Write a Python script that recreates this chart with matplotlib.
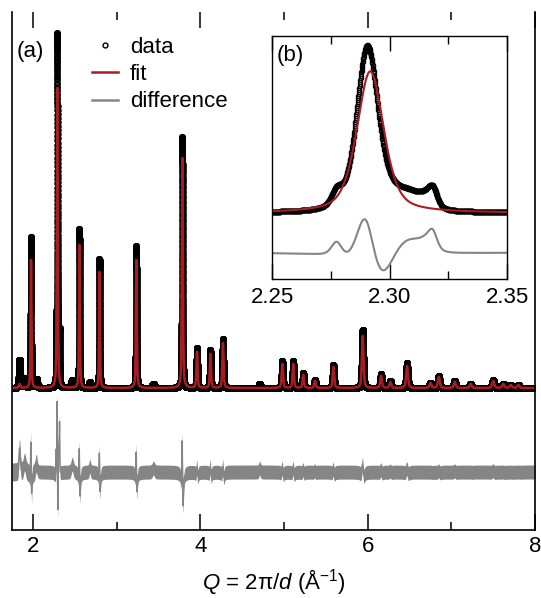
import numpy as np
import matplotlib
matplotlib.use("Agg")
import matplotlib.pyplot as plt
from matplotlib.lines import Line2D
from matplotlib.ticker import MultipleLocator

plt.rcParams['font.family'] = ['Liberation Sans', 'DejaVu Sans']
plt.rcParams['mathtext.fontset'] = 'custom'
plt.rcParams['mathtext.rm'] = 'Liberation Sans'
plt.rcParams['mathtext.it'] = 'Liberation Sans:italic'
plt.rcParams['font.size'] = 16

data_pos = [1.840, 1.900, 1.976, 2.040, 2.2775, 2.2905, 2.2925, 2.309, 2.3165, 2.3185,
            2.470, 2.555, 2.680, 2.795, 3.235, 3.440, 3.785, 3.960, 4.120,
            4.270, 4.710, 4.980, 5.110, 5.230, 5.370, 5.590, 5.940, 6.160,
            6.270, 6.470, 6.750, 6.850, 7.040, 7.230, 7.500, 7.620, 7.710, 7.800]
data_h = [28, 10, 151, 9, 28, 290, 65, 30, 22, 26,
          8, 159, 6, 129, 142, 4, 251, 40, 38,
          49, 4, 27, 27, 15, 8, 23, 58, 14,
          7, 25, 5, 12, 7, 4, 8, 4, 3, 3]
data_fwhm = [0.020, 0.030, 0.010, 0.025, 0.005, 0.010, 0.020, 0.014, 0.007, 0.004,
             0.030, 0.011, 0.020, 0.011, 0.012, 0.030, 0.013, 0.015, 0.015,
             0.016, 0.020, 0.018, 0.018, 0.018, 0.020, 0.020, 0.022, 0.022,
             0.022, 0.024, 0.025, 0.025, 0.026, 0.026, 0.028, 0.028, 0.028, 0.028]

# refined model peaks
fit_pos = [1.841, 1.977, 2.2918, 2.556, 2.796, 3.236, 3.786, 3.961, 4.121,
           4.271, 4.981, 5.111, 5.231, 5.371, 5.591, 5.941, 6.161, 6.271,
           6.471, 6.751, 6.851, 7.041, 7.231, 7.501, 7.621, 7.711, 7.801]
fit_h = [4, 128, 300, 143, 116, 128, 230, 36, 34,
         45, 24, 24, 13, 7, 21, 52, 12, 6,
         22, 5, 11, 6, 4, 7, 4, 3, 3]
fit_fwhm = [0.022, 0.012, 0.0135, 0.013, 0.013, 0.014, 0.015, 0.017, 0.017,
            0.018, 0.020, 0.020, 0.020, 0.022, 0.022, 0.024, 0.024, 0.024,
            0.026, 0.027, 0.027, 0.028, 0.028, 0.030, 0.030, 0.030, 0.030]

noise_edges = [1.75, 2.05, 8.0]
noise_hw = [9, 7]
diff_offset = -84


def pvoigt(q, pos, h, fwhm, eta):
    x = (q - pos) / (fwhm / 2)
    return h * (eta / (1 + x**2) + (1 - eta) * np.exp(-np.log(2) * x**2))


q = np.arange(1.75, 8.0001, 0.0001)
obs = np.zeros_like(q)
for p, h, w in zip(data_pos, data_h, data_fwhm):
    obs += pvoigt(q, p, h, w, 0.3)
calc = np.zeros_like(q)
for p, h, w in zip(fit_pos, fit_h, fit_fwhm):
    calc += pvoigt(q, p, h, w, 0.5)
diff = obs - calc + diff_offset
band = np.where(q < noise_edges[1], noise_hw[0], noise_hw[1])

red = '#a81c22'
grey = '#858585'

fig = plt.figure(figsize=(5.41, 5.98), dpi=100)
ax = fig.add_axes([0.0222, 0.1137, 0.9667, 0.8662])

ax.fill_between(q, diff - band, diff + band, color=grey, lw=0)
ax.plot(q, diff, color=grey, lw=1)
ax.plot(q, obs, 'o', ms=3.5, mfc='none', mec='k', mew=1.2)
ax.plot(q, calc, color=red, lw=1.8)

ax.set_xlim(1.75, 8)
ax.set_ylim(-142, 376)
ax.set_yticks([])
ax.xaxis.set_major_locator(MultipleLocator(2))
ax.xaxis.set_minor_locator(MultipleLocator(1))
ax.tick_params(axis='x', which='both', direction='in', top=True, width=1.1)
ax.tick_params(axis='x', which='major', length=11.5, pad=4)
ax.tick_params(axis='x', which='minor', length=5.8)
ax.spines['top'].set_visible(False)
for s in ['left', 'right', 'bottom']:
    ax.spines[s].set_linewidth(1.2)
ax.set_xlabel('$Q$ = 2π/$d$ (Å$^{-1}$)', labelpad=8)

ax.text(0.008, 0.923, '(a)', transform=ax.transAxes, va='center', ha='left')

handles = [Line2D([], [], ls='none', marker='o', ms=3.5, mfc='none', mec='k', mew=1),
           Line2D([], [], color=red, lw=1.8),
           Line2D([], [], color=grey, lw=1.8)]
ax.legend(handles, ['data', 'fit', 'difference'], loc='upper left',
          bbox_to_anchor=(0.153, 0.952), frameon=False, borderpad=0,
          borderaxespad=0, handlelength=1.15, handletextpad=0.55,
          labelspacing=0.28)

# inset: zoom on the strongest reflection
ins = fig.add_axes([0.5028, 0.5334, 0.4344, 0.4064])
sel = (q >= 2.248) & (q <= 2.352)
ins.plot(q[sel], diff[sel], color=grey, lw=1.5)
ins.plot(q[sel], obs[sel], 'o', ms=3.0, mfc='none', mec='k', mew=0.9)
ins.plot(q[sel], calc[sel], color=red, lw=1.5)
ins.set_xlim(2.25, 2.35)
ins.set_ylim(-140, 375)
ins.set_yticks([])
ins.set_xticks([2.25, 2.30, 2.35])
ins.set_xticklabels(['2.25', '2.30', '2.35'])
ins.xaxis.set_minor_locator(MultipleLocator(0.025))
ins.tick_params(axis='x', which='both', direction='in', top=True, width=1.0)
ins.tick_params(axis='x', which='major', length=11, pad=6)
ins.tick_params(axis='x', which='minor', length=5.5)
for s in ins.spines.values():
    s.set_linewidth(1.0)
ins.text(0.02, 0.92, '(b)', transform=ins.transAxes, va='center', ha='left')

fig.savefig('out.png', dpi=100)
